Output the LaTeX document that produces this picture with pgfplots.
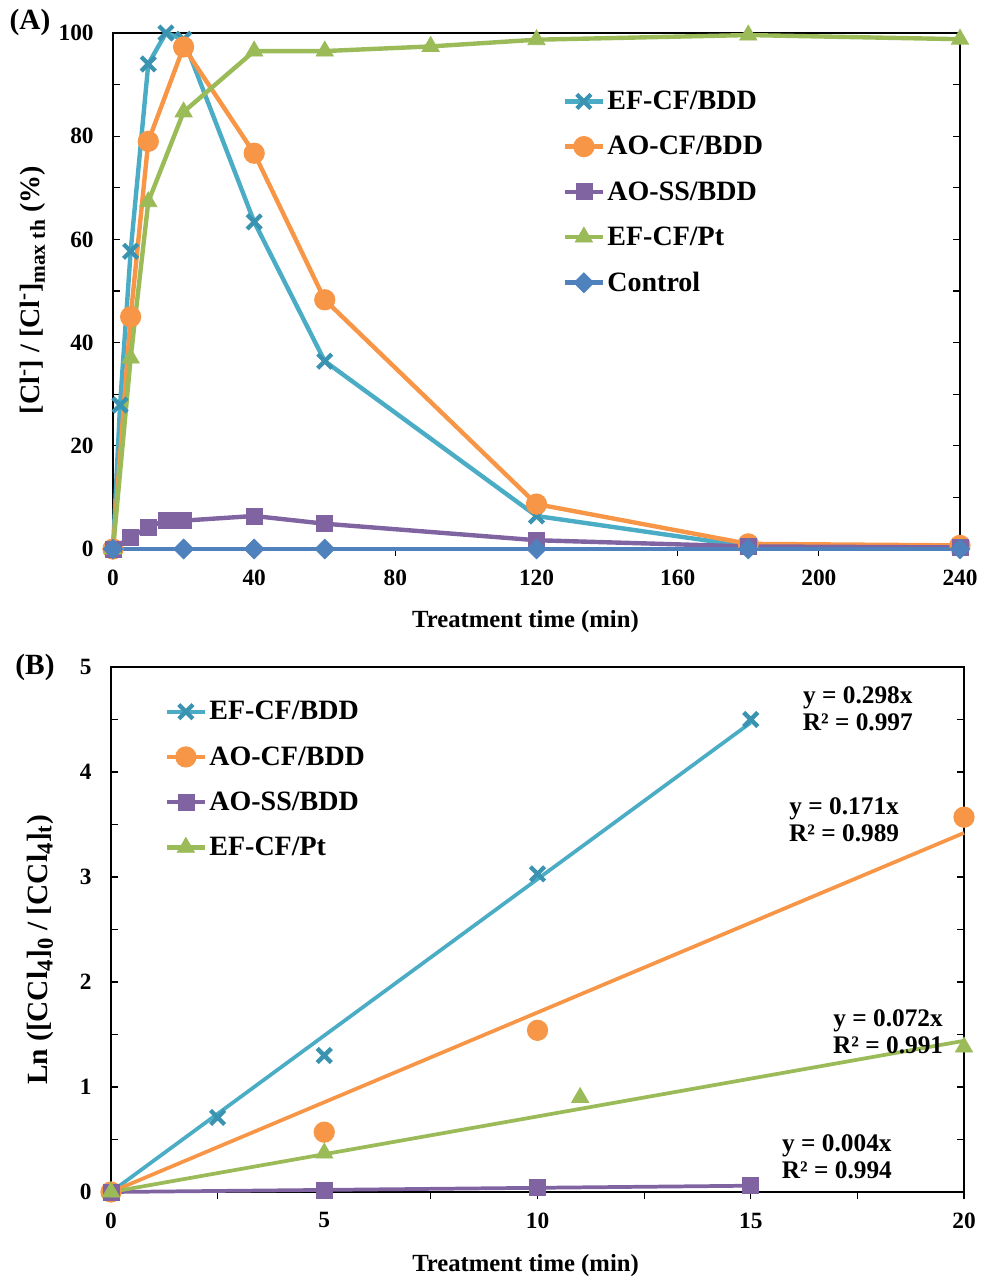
\documentclass[border=0pt]{standalone}
\usepackage{fontspec}
\setmainfont{Liberation Serif}
\usepackage{pgfplots}
\pgfplotsset{compat=1.18}

\definecolor{EFline}{HTML}{4BACC6}
\definecolor{EFmark}{HTML}{3A93B0}
\definecolor{AOcol}{HTML}{F79646}
\definecolor{SScol}{HTML}{8064A2}
\definecolor{PTcol}{HTML}{9BBB59}
\definecolor{CTcol}{HTML}{4F81BD}

\pgfplotsset{
  panel/.style={
    scale only axis, clip=false,
    axis line style={black, line width=0.9pt},
    tick style={black, line width=0.9pt},
    major tick length=5.5pt, minor tick length=5.5pt,
    xtick pos=left, xtick align=outside,
    ytick pos=both, ytick align=inside,
    /pgf/number format/assume math mode=true,
    tick label style={font=\fontsize{17.5}{20}\selectfont\bfseries},
    xticklabel shift=6.5pt, yticklabel shift=11pt,
    label style={font=\fontsize{18.5}{22}\selectfont\bfseries},
    legend cell align=left,
    legend style={draw=none, fill=none, inner sep=0pt, row sep=14.5pt,
      font=\fontsize{21}{24}\selectfont\bfseries},
    legend image code/.code={
      \draw[mark repeat=2, mark phase=2] plot coordinates {(0pt,0pt)(14pt,0pt)(28pt,0pt)};},
  },
  ef/.style={EFline, line width=3.3pt, mark=x, mark size=7.5pt,
    mark options={draw=EFmark, line width=3.2pt, solid}},
  ao/.style={AOcol, line width=3.3pt, mark=*, mark size=6.3pt,
    mark options={draw=AOcol, fill=AOcol, solid}},
  ss/.style={SScol, line width=3.3pt, mark=square*, mark size=6pt,
    mark options={draw=SScol, fill=SScol, solid, line width=0.5pt}},
  pt/.style={PTcol, line width=3.3pt, mark=triangle*, mark size=7.5pt,
    mark options={draw=PTcol, fill=PTcol, solid, line width=0.5pt}},
  ct/.style={CTcol, line width=3.3pt, mark=square*, mark size=5.3pt,
    mark options={draw=CTcol, fill=CTcol, solid, rotate=45, line width=0.5pt}},
}

\begin{document}
\begin{tikzpicture}
\path[use as bounding box] (0pt,0pt) rectangle (736.5pt,-961.5pt);

% ---- panel A ----
\begin{axis}[panel,
  at={(84.75pt,-24.75pt)}, anchor=north west,
  width=635.25pt, height=387pt,
  xmin=0, xmax=240, ymin=0, ymax=100,
  xtick={0,40,...,240}, ytick={0,20,...,100}, minor y tick num=1,
  xlabel={Treatment time (min)},
  ylabel={[Cl\textsuperscript{\fontsize{16}{16}\selectfont -}] / [Cl\textsuperscript{\fontsize{16}{16}\selectfont -}]\textsubscript{\fontsize{16}{16}\selectfont max th} (\%)},
  xlabel style={at={(axis description cs:0.487,-0.14)}, anchor=center},
  ylabel style={at={(axis description cs:-0.0945,0.502)}, anchor=center,
    font=\fontsize{21}{24}\selectfont\bfseries},
  legend style={at={(axis description cs:0.531,0.893)}, anchor=north west},
]
\addplot[ef] coordinates {(0,0)(2,27.9)(5,57.7)(10,94)(15,100)(20,98.8)(40,63.4)(60,36.4)(120,6.4)(180,0.5)(240,0.3)};
\addlegendentry{EF-CF/BDD}
\addplot[ao] coordinates {(0,0)(5,45)(10,79)(20,97.3)(40,76.7)(60,48.3)(120,8.7)(180,1.0)(240,0.7)};
\addlegendentry{AO-CF/BDD}
\addplot[ss] coordinates {(0,0)(5,2.3)(10,4.2)(15,5.6)(20,5.5)(40,6.4)(60,4.9)(120,1.7)(180,0.5)(240,0.3)};
\addlegendentry{AO-SS/BDD}
\addplot[pt] coordinates {(0,0)(5,37)(10,67.3)(20,84.7)(40,96.5)(60,96.5)(90,97.4)(120,98.7)(180,99.6)(240,98.8)};
\addlegendentry{EF-CF/Pt}
\addplot[ct] coordinates {(0,0)(20,0)(40,0)(60,0)(120,0)(180,0)(240,0)};
\addlegendentry{Control}
\end{axis}

% ---- panel B ----
\begin{axis}[panel,
  at={(83.25pt,-500.25pt)}, anchor=north west,
  width=639.75pt, height=393.75pt,
  xmin=0, xmax=20, ymin=0, ymax=5,
  xtick={0,5,...,20}, minor x tick num=1,
  ytick={0,1,...,5}, minor y tick num=1,
  xlabel={Treatment time (min)},
  ylabel={Ln ([CCl\textsubscript{\fontsize{17}{17}\selectfont 4}]\textsubscript{\fontsize{17}{17}\selectfont 0} / [CCl\textsubscript{\fontsize{17}{17}\selectfont 4}]\textsubscript{\fontsize{17}{17}\selectfont t})},
  xlabel style={at={(axis description cs:0.486,-0.141)}, anchor=center},
  ylabel style={at={(axis description cs:-0.083,0.461)}, anchor=center,
    font=\fontsize{22}{24}\selectfont\bfseries},
  legend style={at={(axis description cs:0.063,0.94)}, anchor=north west},
]
% measured points
\addplot[ef, only marks, forget plot] coordinates {(0,0)(2.5,0.71)(5,1.30)(10,3.03)(15,4.50)};
\addplot[ao, only marks, forget plot] coordinates {(0,0)(5,0.57)(10,1.54)(20,3.57)};
\addplot[ss, only marks, forget plot] coordinates {(0,0)(5,0.02)(10,0.04)(15,0.06)};
\addplot[pt, only marks, forget plot] coordinates {(0,0)(5,0.37)(11,0.90)(20,1.38)};
% linear fits
\addplot[EFline, line width=2.8pt, forget plot] coordinates {(0,0)(15,4.47)};
\addplot[AOcol, line width=2.8pt, forget plot] coordinates {(0,0)(20,3.42)};
\addplot[SScol, line width=2.8pt, forget plot] coordinates {(0,0)(15,0.06)};
\addplot[PTcol, line width=2.8pt, forget plot] coordinates {(0,0)(20,1.44)};
\addlegendimage{ef}\addlegendentry{EF-CF/BDD}
\addlegendimage{ao}\addlegendentry{AO-CF/BDD}
\addlegendimage{ss}\addlegendentry{AO-SS/BDD}
\addlegendimage{pt}\addlegendentry{EF-CF/Pt}

\begin{scope}[font=\fontsize{19}{20}\selectfont\bfseries]
\node[align=center] at (axis cs:17.51,4.605) {y = 0.298x\\R² = 0.997};
\node[align=center] at (axis cs:17.19,3.548) {y = 0.171x\\R² = 0.989};
\node[align=center] at (axis cs:18.22,1.524) {y = 0.072x\\R² = 0.991};
\node[align=center] at (axis cs:17.02,0.338) {y = 0.004x\\R² = 0.994};
\end{scope}
\end{axis}

\node[font=\fontsize{22}{24}\selectfont\bfseries] at (22.5pt,-16.5pt) {(A)};
\node[font=\fontsize{22}{24}\selectfont\bfseries] at (26.25pt,-500.25pt) {(B)};
\end{tikzpicture}
\end{document}
